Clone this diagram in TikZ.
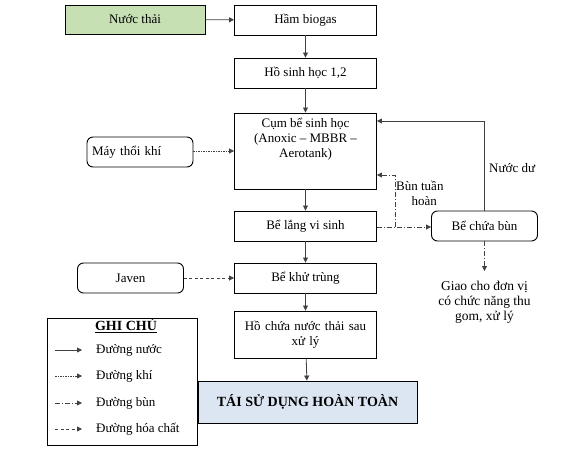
\documentclass[tikz,border=0pt]{standalone}
\usepackage{fontspec}
\setmainfont{Liberation Serif}
\usetikzlibrary{arrows.meta,positioning}
\begin{document}
\begin{tikzpicture}[x=1pt,y=-1pt,
  font=\fontsize{13}{15}\selectfont,
  box/.style={draw=black,line width=0.9pt,minimum width=142pt,minimum height=30pt,inner sep=1pt,align=center},
  rbox/.style={draw=black,line width=0.9pt,rounded corners=6pt,minimum width=106pt,minimum height=30pt,inner sep=1pt,align=center},
  tip/.style={-{Triangle[length=5pt,width=5pt]}},
  water/.style={tip,draw=black!75,line width=0.8pt},
  air/.style={tip,draw=black!75,line width=0.8pt,dash pattern=on 1.5pt off 1pt},
  sludge/.style={tip,draw=black!75,line width=0.8pt,dash pattern=on 5pt off 2pt on 1pt off 2pt},
  chem/.style={tip,draw=black!75,line width=0.8pt,dash pattern=on 3pt off 2.5pt},
  lbl/.style={align=center,inner sep=0pt}]
\useasboundingbox (0,0) rectangle (571,475);

\node[box,fill={rgb,255:red,198;green,224;blue,180},minimum width=140pt,minimum height=29pt] (nt) at (135,19.5) {Nước thải};
\node[box] (ham) at (305.5,20) {Hầm biogas};
\node[box] (ho) at (305.5,73) {Hồ sinh học 1,2};
\node[box,minimum height=76pt,
  label={[lbl,anchor=north,yshift=-5pt]north:Cụm bể sinh học\\(Anoxic – MBBR –\\Aerotank)}] (cum) at (305.5,151) {};
\node[box] (lang) at (305.5,226) {Bể lắng vi sinh};
\node[box] (khu) at (305.5,278) {Bể khử trùng};
\node[box,minimum height=47pt,text width=138pt] (hcn) at (305.5,334.5) {Hồ chứa nước thải sau\\xử lý\vphantom{p}\\[-6pt]};
\node[box,fill={rgb,255:red,220;green,230;blue,242},minimum width=219pt,minimum height=42pt,font=\fontsize{14}{16}\selectfont\bfseries] (tai) at (307.5,402) {TÁI SỬ DỤNG HOÀN TOÀN};

\node[rbox,text width=96pt,align=left] (may) at (140,152) {Máy thổi khí};
\node[rbox] (jav) at (130.5,278) {Javen};
\node[rbox] (bcb) at (484.5,226) {Bể chứa bùn};

% main water line
\draw[water] (nt) -- (ham);
\draw[water] (ham) -- (ho);
\draw[water] (ho) -- (cum);
\draw[water] (cum) -- (lang);
\draw[water] (lang) -- (khu);
\draw[water] (khu) -- (hcn);
\draw[water] (hcn) -- (tai);

\draw[air] (may.east |- 0,151) -- (cum.west |- 0,151);
\draw[chem] (jav) -- (khu);

% sludge
\draw[sludge] (lang.east |- 0,227) -- (bcb.west |- 0,227);
\coordinate (j) at (395,227);
\draw[sludge] (j) -- (395,175) -- (cum.east |- 0,175);
\node[lbl,anchor=north west] (btl) at (396,181) {Bùn tuần\\\hspace*{9pt}hoàn};

\draw[water] (bcb.north) -- (bcb.north |- 0,121) -- (cum.east |- 0,121);
\node[lbl,anchor=west] (nd) at (489,168) {Nước dư};

\coordinate (g) at (484.5,271);
\draw[sludge] (bcb.south) -- (g);
\node[lbl,anchor=north,font=\fontsize{13.5}{15}\selectfont] (giao) at (484.5,281) {Giao cho đơn vị\\có chức năng thu\\gom, xử lý};

% legend
\node[draw=black,line width=0.9pt,minimum width=150pt,minimum height=127pt] (leg) at (122,381.5) {};
\node[lbl,font=\fontsize{14}{16}\selectfont\bfseries] (gc) at (126,326) {\underline{GHI CHÚ}};
\foreach \yy/\st/\tx [count=\i] in {350/water/Đường nước,376/air/Đường khí,403/sludge/Đường bùn,429/chem/Đường hóa chất}{
  \coordinate (la\i) at (55,\yy);
  \coordinate (lb\i) at (82,\yy);
  \draw[\st] (la\i) -- (lb\i);
  \node[lbl,anchor=west] (lt\i) at (96,\yy) {\tx};
}
\end{tikzpicture}
\end{document}
